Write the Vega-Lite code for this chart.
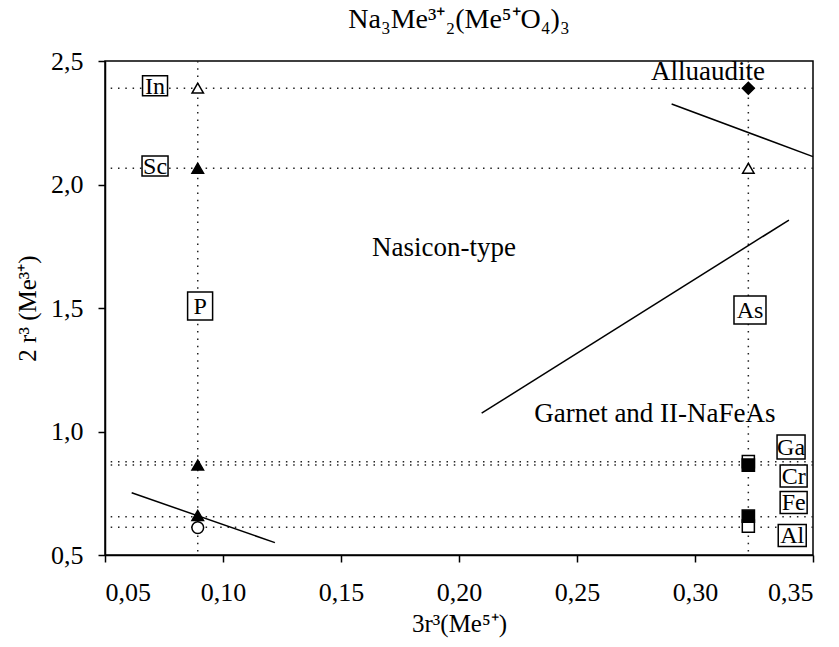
{
  "$schema": "https://vega.github.io/schema/vega-lite/v6.json",
  "width": 708,
  "height": 494,
  "autosize": {"type": "none"},
  "padding": {"left": 105, "top": 61, "right": 26, "bottom": 92},
  "background": "white",
  "config": {
    "font": "Liberation Serif",
    "view": {"stroke": "black", "strokeWidth": 1.5},
    "axis": {"grid": false, "domainColor": "black", "domainWidth": 1.5, "tickColor": "black", "tickWidth": 1.5, "tickSize": 7, "labelColor": "black", "labelFont": "Times New Roman", "labelFontSize": 26, "titleFont": "Times New Roman", "titleFontSize": 25, "titleFontWeight": "normal", "titleColor": "black"}
  },
  "title": {"text": "Na₃Me³⁺₂(Me⁵⁺O₄)₃", "font": "Liberation Serif", "fontSize": 28, "fontWeight": "normal", "color": "black", "anchor": "middle", "offset": 14},
  "resolve": {"scale": {"shape": "independent", "fill": "independent", "size": "independent"}},
  "encoding": {
    "x": {"field": "x", "type": "quantitative", "scale": {"domain": [0.05, 0.35], "nice": false, "zero": false},
      "axis": {"values": [0.05, 0.1, 0.15, 0.2, 0.25, 0.3, 0.35], "labelExpr": "replace(format(datum.value, '.2f'), '.', ',')", "labelPadding": 17, "title": "3r³(Me⁵⁺)", "titlePadding": 6, "labelFont": "Times New Roman", "titleFont": "Times New Roman"}},
    "y": {"field": "y", "type": "quantitative", "scale": {"domain": [0.5, 2.5], "nice": false, "zero": false},
      "axis": {"values": [0.5, 1.0, 1.5, 2.0, 2.5], "labelExpr": "replace(format(datum.value, '.1f'), '.', ',')", "labelPadding": 15, "title": "2 r³ (Me³⁺)", "titlePadding": 10, "labelFont": "Times New Roman", "titleFont": "Times New Roman"}}
  },
  "datasets": {
    "hlines": [{"y": 2.39}, {"y": 2.066}, {"y": 0.878}, {"y": 0.864}, {"y": 0.655}, {"y": 0.612}],
    "vlines": [{"x": 0.0893}, {"x": 0.3226}],
    "segments": [
      {"x": 0.0613, "y": 0.752, "x2": 0.122, "y2": 0.55},
      {"x": 0.2096, "y": 1.074, "x2": 0.3398, "y2": 1.856},
      {"x": 0.2901, "y": 2.326, "x2": 0.35, "y2": 2.113}
    ],
    "markers": [
      {"x": 0.0893, "y": 2.39, "type": "open triangle"},
      {"x": 0.0893, "y": 2.066, "type": "filled triangle"},
      {"x": 0.0893, "y": 0.864, "type": "filled triangle"},
      {"x": 0.0893, "y": 0.66, "type": "filled triangle"},
      {"x": 0.0893, "y": 0.611, "type": "open circle"},
      {"x": 0.3226, "y": 2.39, "type": "filled diamond"},
      {"x": 0.3226, "y": 2.066, "type": "open triangle"},
      {"x": 0.3226, "y": 0.878, "type": "open square"},
      {"x": 0.3226, "y": 0.617, "type": "open square"},
      {"x": 0.3226, "y": 0.864, "type": "filled square"},
      {"x": 0.3226, "y": 0.657, "type": "filled square"}
    ],
    "regions": [
      {"text": "Alluaudite", "x": 0.3055, "y": 2.455},
      {"text": "Nasicon-type", "x": 0.1936, "y": 1.743},
      {"text": "Garnet and II-NaFeAs", "x": 0.283, "y": 1.071}
    ],
    "boxes": [
      {"label": "In", "x": 0.0712, "y": 2.4},
      {"label": "Sc", "x": 0.0712, "y": 2.075},
      {"label": "P", "x": 0.0903, "y": 1.508},
      {"label": "As", "x": 0.3233, "y": 1.492},
      {"label": "Ga", "x": 0.3407, "y": 0.937},
      {"label": "Cr", "x": 0.3418, "y": 0.82},
      {"label": "Fe", "x": 0.3418, "y": 0.7126},
      {"label": "Al", "x": 0.3412, "y": 0.579}
    ]
  },
  "layer": [
    {
      "data": {"name": "hlines"},
      "mark": {"type": "rule", "color": "#222", "strokeWidth": 1.5, "strokeDash": [1.5, 5.8]},
      "encoding": {"x": null}
    },
    {
      "data": {"name": "vlines"},
      "mark": {"type": "rule", "color": "#222", "strokeWidth": 1.5, "strokeDash": [1.5, 5.8]},
      "encoding": {"y": null}
    },
    {
      "data": {"name": "segments"},
      "mark": {"type": "rule", "color": "black", "strokeWidth": 1.5},
      "encoding": {
        "x2": {"field": "x2"},
        "y2": {"field": "y2"}
      }
    },
    {
      "data": {"name": "markers"},
      "mark": {"type": "point", "filled": true, "stroke": "black", "strokeWidth": 1.5, "opacity": 1},
      "encoding": {
        "shape": {"field": "type", "type": "nominal", "legend": null,
          "scale": {"domain": ["open triangle", "filled triangle", "open circle", "filled diamond", "open square", "filled square"], "range": ["triangle-up", "triangle-up", "circle", "diamond", "square", "square"]}},
        "fill": {"field": "type", "type": "nominal", "legend": null,
          "scale": {"domain": ["open triangle", "filled triangle", "open circle", "filled diamond", "open square", "filled square"], "range": ["white", "black", "white", "black", "white", "black"]}},
        "size": {"field": "type", "type": "nominal", "legend": null,
          "scale": {"domain": ["open triangle", "filled triangle", "open circle", "filled diamond", "open square", "filled square"], "range": [130, 150, 110, 220, 100, 110]}}
      }
    },
    {
      "data": {"name": "regions"},
      "mark": {"type": "text", "font": "Liberation Serif", "fontSize": 27, "color": "black", "align": "center", "baseline": "middle"},
      "encoding": {"text": {"field": "text"}}
    },
    {
      "data": {"name": "boxes"},
      "mark": {"type": "point", "filled": true, "fill": "white", "stroke": "black", "strokeWidth": 1.5, "opacity": 1, "size": 4},
      "encoding": {
        "shape": {"field": "label", "type": "nominal", "legend": null,
          "scale": {"domain": ["In", "Sc", "P", "As", "Ga", "Cr", "Fe", "Al"],
            "range": ["M-12.5,-10H12.5V10H-12.5Z", "M-13,-10H13V10H-13Z", "M-12.5,-14H12.5V14H-12.5Z", "M-16,-14H16V14H-16Z", "M-14,-12H14V12H-14Z", "M-13.5,-11H13.5V11H-13.5Z", "M-13.5,-11H13.5V11H-13.5Z", "M-14,-11H14V11H-14Z"]}}
      }
    },
    {
      "data": {"name": "boxes"},
      "mark": {"type": "text", "font": "Liberation Serif", "fontSize": 24, "color": "black", "align": "center", "baseline": "middle", "dy": 1},
      "encoding": {"text": {"field": "label"}}
    }
  ]
}
